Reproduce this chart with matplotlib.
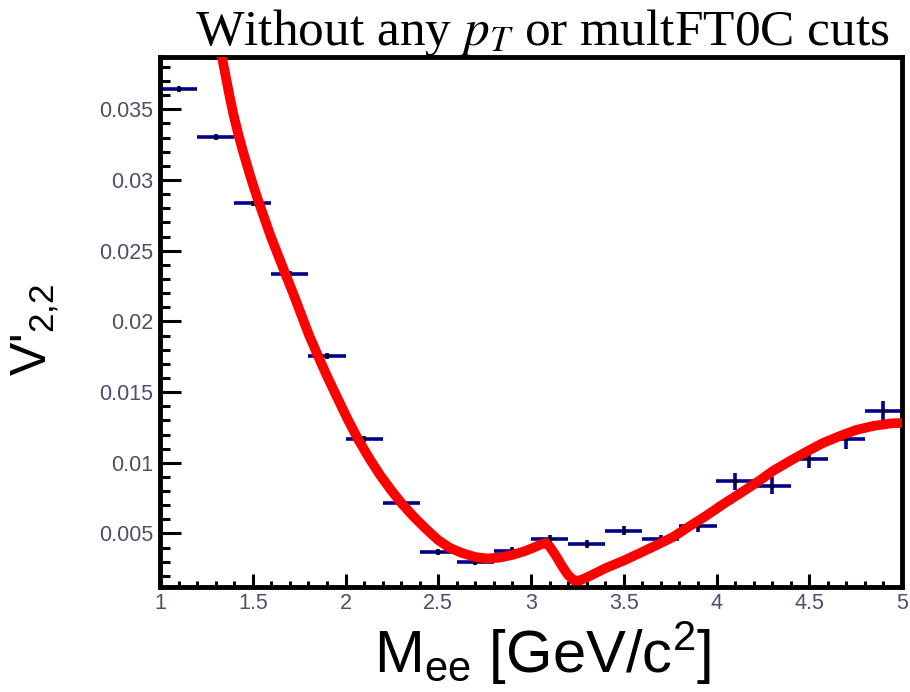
import matplotlib
matplotlib.use("Agg")
import matplotlib.pyplot as plt
from matplotlib.ticker import MultipleLocator, FuncFormatter

plt.rcParams['mathtext.fontset'] = 'stix'

# ---- data ----
bin_centers = [1.1, 1.3, 1.5, 1.7, 1.9, 2.1, 2.3, 2.5, 2.7, 2.9,
               3.1, 3.3, 3.5, 3.7, 3.9, 4.1, 4.3, 4.5, 4.7, 4.9]
bin_halfwidth = [0.1] * 20
v22 = [0.03644, 0.03302, 0.02835, 0.02333, 0.01755, 0.01166, 0.00714, 0.00371,
       0.00300, 0.00376, 0.00459, 0.00426, 0.00520, 0.00459, 0.00553, 0.00871,
       0.00836, 0.01025, 0.01166, 0.01366]
v22_err = [0.0002, 0.0002, 0.0002, 0.0002, 0.0002, 0.0002, 0.0002, 0.0002,
           0.0002, 0.00025, 0.0003, 0.0003, 0.0003, 0.0003, 0.0004, 0.0006,
           0.0006, 0.0006, 0.0007, 0.0007]

# fit curve
fit_x = [1.318, 1.334, 1.356, 1.377, 1.399, 1.426, 1.453, 1.480, 1.507, 1.534,
         1.566, 1.598, 1.636, 1.674, 1.717, 1.760, 1.803, 1.852, 1.900, 1.954,
         2.008, 2.067, 2.127, 2.186, 2.245, 2.305, 2.369, 2.434, 2.499, 2.563,
         2.628, 2.698, 2.763, 2.833, 2.898, 2.962, 3.016, 3.059, 3.081, 3.102,
         3.135, 3.167, 3.199, 3.232, 3.264, 3.318, 3.404, 3.496, 3.588, 3.679,
         3.766, 3.857, 3.943, 4.030, 4.121, 4.213, 4.304, 4.396, 4.482, 4.574,
         4.666, 4.752, 4.844, 4.935, 5.000]
fit_y = [0.03955, 0.03870, 0.03721, 0.03580, 0.03446, 0.03304, 0.03177, 0.03057, 0.02943, 0.02837,
         0.02717, 0.02597, 0.02470, 0.02342, 0.02201, 0.02052, 0.01904, 0.01755, 0.01614, 0.01465,
         0.01317, 0.01168, 0.01034, 0.00914, 0.00808, 0.00709, 0.00617, 0.00532, 0.00454, 0.00398,
         0.00362, 0.00334, 0.00323, 0.00330, 0.00348, 0.00373, 0.00401, 0.00426, 0.00433, 0.00405,
         0.00341, 0.00270, 0.00207, 0.00168, 0.00168, 0.00200, 0.00256, 0.00306, 0.00362, 0.00419,
         0.00475, 0.00553, 0.00624, 0.00702, 0.00779, 0.00857, 0.00942, 0.01013, 0.01076, 0.01140,
         0.01190, 0.01232, 0.01260, 0.01278, 0.01282]

x_ticks = [1, 1.5, 2, 2.5, 3, 3.5, 4, 4.5, 5]
y_ticks = [0.005, 0.01, 0.015, 0.02, 0.025, 0.03, 0.035]

title = r"Without any $p_T$ or multFT0C cuts"
xlabel = r"M$\mathregular{_{ee}}$ [GeV/c$\mathregular{^{2}}$]"
ylabel = r"V'$\mathregular{_{2{,}2}}$"

# ---- figure ----
fig = plt.figure(figsize=(9.10, 6.92), dpi=100)
ax = fig.add_axes([160/910, 105.5/692, 742/910, 529.5/692])

ax.errorbar(bin_centers, v22, xerr=bin_halfwidth, yerr=v22_err, fmt='none',
            ecolor='#00008b', elinewidth=2.6, capsize=0, zorder=2)
ax.plot(bin_centers, v22, linestyle='none', marker='.', color='black',
        markersize=4, zorder=3)
ax.plot(fit_x, fit_y, color='#ff0000', linewidth=7, solid_capstyle='butt',
        solid_joinstyle='round', zorder=4)

ax.set_xlim(1, 5)
ax.set_ylim(0.00125, 0.0387)

ax.set_xticks(x_ticks)
ax.xaxis.set_minor_locator(MultipleLocator(0.1))
ax.set_yticks(y_ticks)
ax.yaxis.set_minor_locator(MultipleLocator(0.001))
ax.xaxis.set_major_formatter(FuncFormatter(lambda v, p: f"{v:g}"))
ax.yaxis.set_major_formatter(FuncFormatter(lambda v, p: f"{v:g}"))

tick_color = '#4a5068'
ax.tick_params(axis='both', which='both', direction='in', top=False, right=False,
               width=2.2, color='black', labelcolor=tick_color)
ax.tick_params(axis='y', which='major', length=15, pad=5, labelsize=15.5)
ax.tick_params(axis='y', which='minor', length=7)
ax.tick_params(axis='x', which='major', length=9.5, pad=5, labelsize=15.5)
ax.tick_params(axis='x', which='minor', length=4.5)
for lab in ax.get_xticklabels() + ax.get_yticklabels():
    lab.set_family('Liberation Sans')

for s in ax.spines.values():
    s.set_linewidth(3.5)
    s.set_color('black')

fig.text(0.596, 0.935, title, ha='center', va='baseline', fontsize=37,
         family='Liberation Serif')
fig.text(543/910, 0.028, xlabel, ha='center', va='baseline', fontsize=43,
         family='Liberation Sans')
fig.text(0.039, 0.524, ylabel, ha='center', va='center', rotation=90,
         fontsize=36, family='Liberation Sans')

fig.savefig('out.png', dpi=100)
